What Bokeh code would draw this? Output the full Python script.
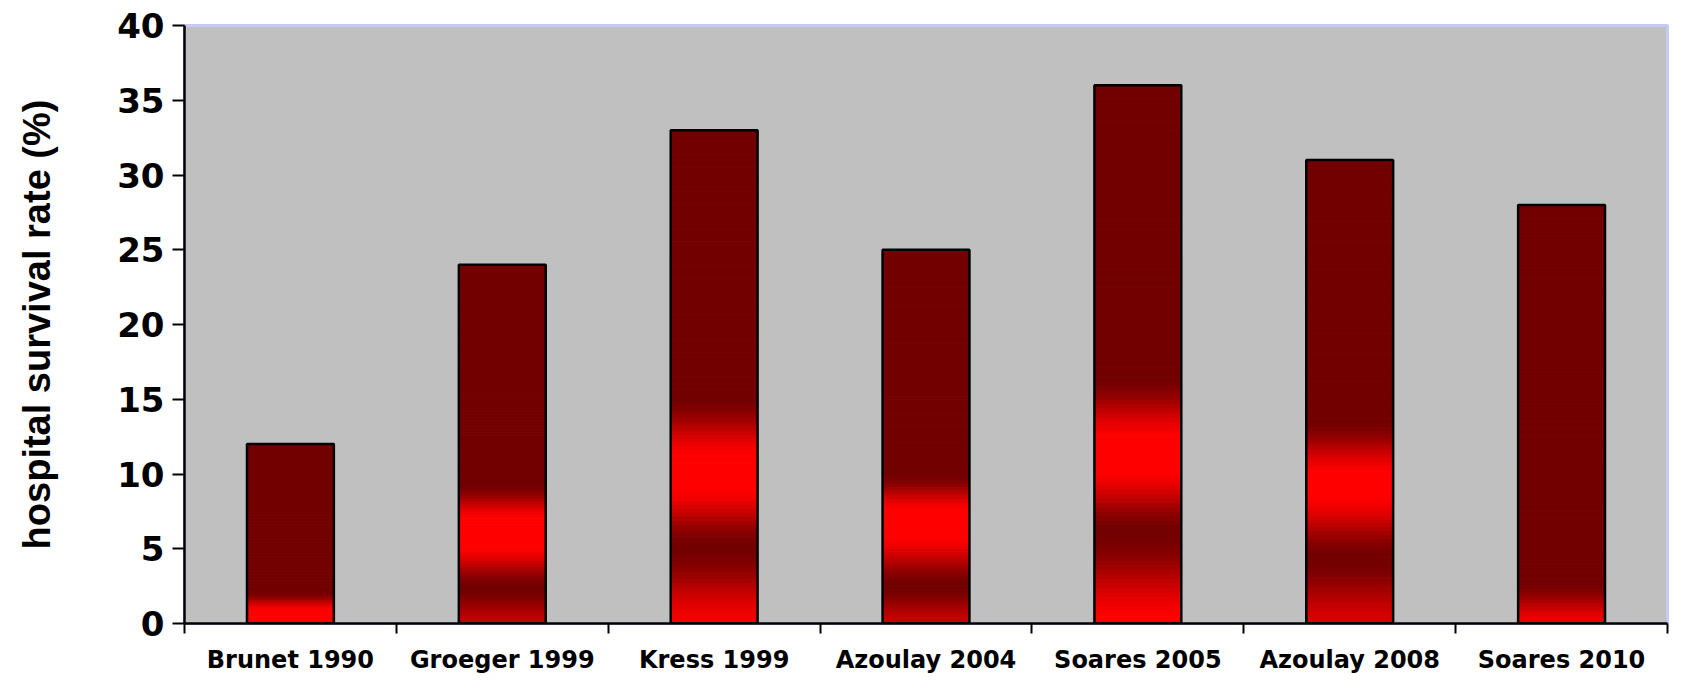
from bokeh.plotting import figure
from bokeh.models import FixedTicker, Range1d
from bokeh.embed import file_html
from bokeh.resources import INLINE

# ---- data ----
studies = ["Brunet 1990", "Groeger 1999", "Kress 1999", "Azoulay 2004",
           "Soares 2005", "Azoulay 2008", "Soares 2010"]
survival = [12, 24, 33, 25, 36, 31, 28]
y_ticks = [0, 5, 10, 15, 20, 25, 30, 35, 40]

# ---- style: gradient stops per bar (fraction of bar height, colour) ----
DARK = (115, 0, 0)
gradient_stops = [
    [(0.0, (255, 0, 0)), (0.07, (255, 0, 0)), (0.18, DARK), (1.0, DARK)],
    [(0.0, (195, 0, 0)), (0.10, DARK), (0.22, (255, 0, 0)), (0.29, (255, 0, 0)), (0.39, DARK), (1.0, DARK)],
    [(0.0, (245, 0, 0)), (0.155, DARK), (0.28, (255, 0, 0)), (0.335, (255, 0, 0)), (0.46, DARK), (1.0, DARK)],
    [(0.0, (200, 0, 0)), (0.10, DARK), (0.24, (255, 0, 0)), (0.30, (255, 0, 0)), (0.40, DARK), (1.0, DARK)],
    [(0.0, (255, 0, 0)), (0.17, DARK), (0.29, (255, 0, 0)), (0.34, (255, 0, 0)), (0.46, DARK), (1.0, DARK)],
    [(0.0, (216, 0, 0)), (0.14, DARK), (0.28, (255, 0, 0)), (0.32, (255, 0, 0)), (0.44, DARK), (1.0, DARK)],
    [(0.0, (242, 0, 0)), (0.10, DARK), (1.0, DARK)],
]
BAR_W = 0.41
N_SLICES = 120


def interp(stops, f):
    for (f0, c0), (f1, c1) in zip(stops[:-1], stops[1:]):
        if f0 <= f <= f1:
            t = 0.0 if f1 == f0 else (f - f0) / (f1 - f0)
            t = t * t * (3 - 2 * t)
            return "#%02x%02x%02x" % tuple(int(round(a + (b - a) * t)) for a, b in zip(c0, c1))
    c = stops[-1][1]
    return "#%02x%02x%02x" % c


xs = list(range(1, len(studies) + 1))

p = figure(width=1670, height=676, output_backend="svg", toolbar_location=None,
           x_range=Range1d(0.5, len(studies) + 0.5), y_range=Range1d(0, 40),
           min_border_left=184, min_border_top=25, min_border_right=3, min_border_bottom=0)

# gradient slices for each bar
left, right, bottom, top, colors = [], [], [], [], []
for x, v, stops in zip(xs, survival, gradient_stops):
    for k in range(N_SLICES):
        f0 = k / N_SLICES
        f1 = (k + 1) / N_SLICES
        left.append(x - BAR_W / 2)
        right.append(x + BAR_W / 2)
        bottom.append(v * f0)
        top.append(v * f1)
        colors.append(interp(stops, (f0 + f1) / 2))
p.quad(left=left, right=right, bottom=bottom, top=top, fill_color=colors,
       line_color=colors, line_width=1)

# bar outlines
p.vbar(x=xs, top=survival, width=BAR_W, fill_color=None, line_color="black", line_width=2.5)

p.background_fill_color = "#C0C0C0"
p.border_fill_color = "white"
p.outline_line_color = "#C8C8F4"
p.outline_line_width = 3
p.xgrid.visible = False
p.ygrid.visible = False

# x axis
xa = p.xaxis[0]
xa.ticker = FixedTicker(ticks=xs, minor_ticks=[x - 0.5 for x in xs] + [xs[-1] + 0.5])
xa.major_label_overrides = {x: s for x, s in zip(xs, studies)}
xa.major_tick_out = 0
xa.major_tick_in = 0
xa.minor_tick_out = 10
xa.minor_tick_in = 0
xa.minor_tick_line_color = "black"
xa.minor_tick_line_width = 2
xa.axis_line_color = "black"
xa.axis_line_width = 2.5
xa.major_label_text_font = "DejaVu Sans"
xa.major_label_text_font_style = "bold"
xa.major_label_text_font_size = "24px"
xa.major_label_text_color = "black"
xa.major_label_standoff = 12

# y axis
ya = p.yaxis[0]
ya.ticker = FixedTicker(ticks=y_ticks, minor_ticks=[])
ya.major_tick_out = 12
ya.major_tick_in = 0
ya.major_tick_line_color = "black"
ya.major_tick_line_width = 2
ya.axis_line_color = "black"
ya.axis_line_width = 2.5
ya.major_label_text_font = "DejaVu Sans"
ya.major_label_text_font_style = "bold"
ya.major_label_text_font_size = "34px"
ya.major_label_text_color = "black"
ya.major_label_standoff = 8
ya.axis_label = "hospital survival rate (%)"
ya.axis_label_text_font = "Liberation Sans"
ya.axis_label_text_font_style = "bold"
ya.axis_label_text_font_size = "38px"
ya.axis_label_text_color = "black"
ya.axis_label_standoff = 56

open("out.html", "w").write(file_html(p, INLINE))
